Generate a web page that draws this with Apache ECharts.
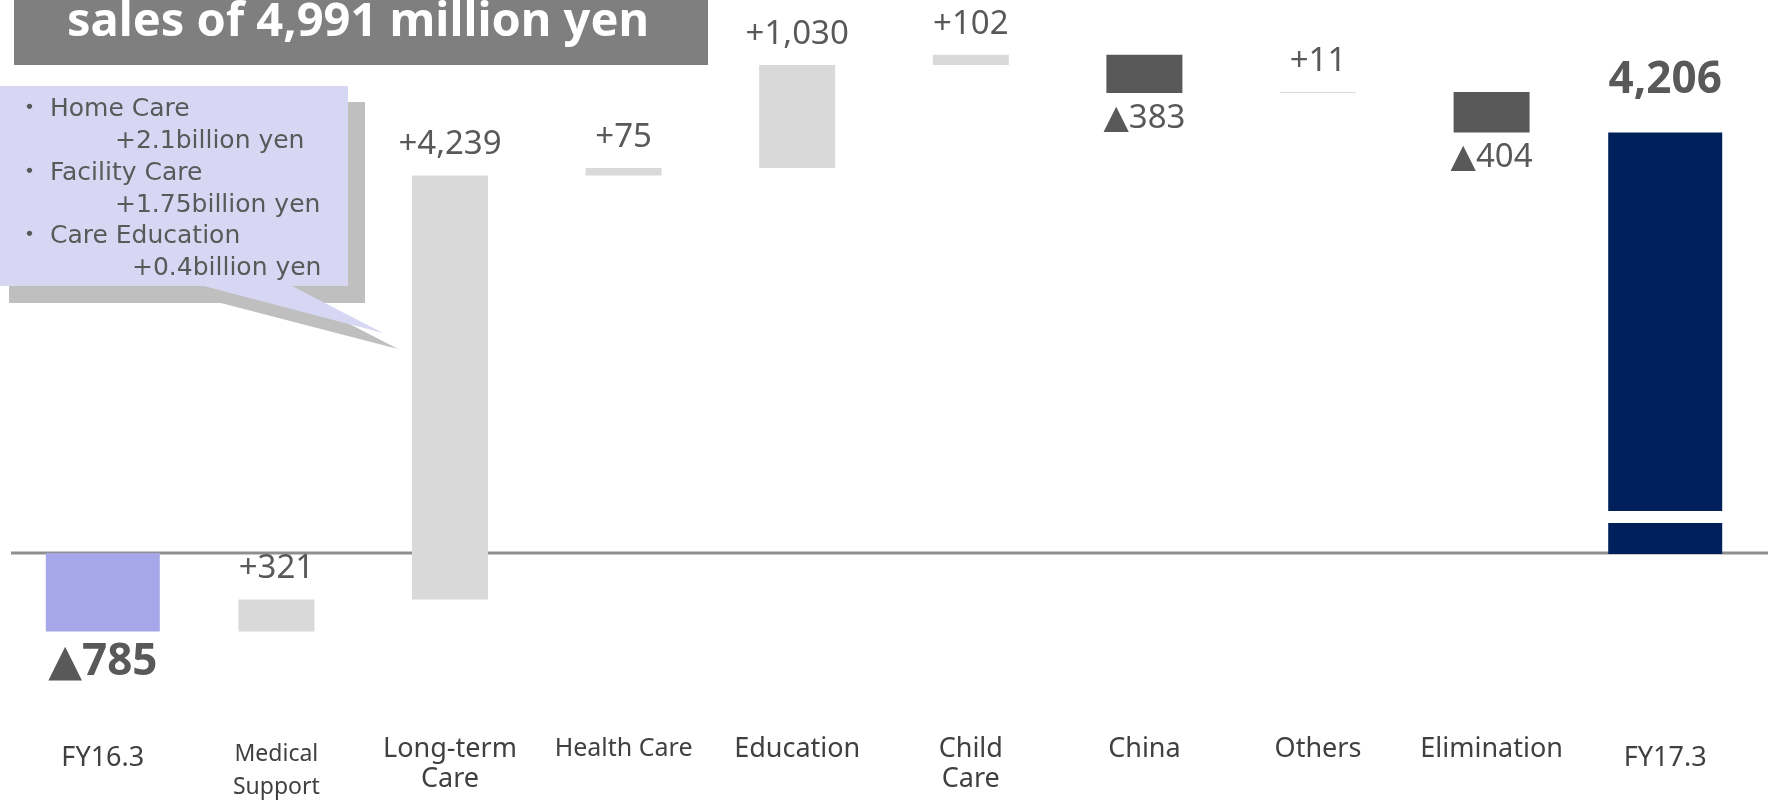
<!DOCTYPE html>
<html>
<head>
<meta charset="utf-8">
<script src="https://cdn.jsdelivr.net/npm/echarts@6/dist/echarts.min.js"></script>
<style>
  html, body { margin: 0; padding: 0; background: #ffffff; }
  #chart { width: 1768px; height: 801px; }
</style>
</head>
<body>
<div id="chart"></div>
<script>
// ---- data (million yen) ----
const categories = ['FY16.3', 'Medical\nSupport', 'Long-term\nCare', 'Health Care', 'Education',
                    'Child\nCare', 'China', 'Others', 'Elimination', 'FY17.3'];
const openingTotal = -785;
const segmentChanges = [321, 4239, 75, 1030, 102, -383, 11, -404];
const closingTotal = 4206;

const headline = 'sales of 4,991 million yen';
const calloutLines = [
  '\u30FB Home Care', '+2.1billion yen',
  '\u30FB Facility Care', '+1.75billion yen',
  '\u30FB Care Education', '+0.4billion yen'
];

// ---- styling ----
const SANS = "'Noto Sans', 'DejaVu Sans', sans-serif";
const WIDE = "'DejaVu Sans', 'Noto Sans CJK JP', sans-serif";
const TEXT_GREY = '#595959';
const LABEL_DARK = '#404040';
const COLORS = { opening: '#a5a7e8', closing: '#00205b', up: '#d9d9d9', down: '#595959' };

// waterfall rows: [category index, from, to, change, kind]  kind 0 = opening, 1 = step, 2 = closing
const rows = [[0, 0, openingTotal, openingTotal, 0]];
let level = openingTotal;
segmentChanges.forEach((d, k) => {
  rows.push([k + 1, level, level + d, d, 1]);
  level += d;
});
rows.push([categories.length - 1, 0, closingTotal, closingTotal, 2]);

function valueText(v, kind) {
  const abs = Math.abs(v).toLocaleString('en-US');
  if (v < 0) return '\u25B2' + abs;
  return kind === 1 ? '+' + abs : abs;
}

// axis label style per category
const labelStyleKey = ['total', 'small', 'main', 'hc', 'main', 'main', 'main', 'main', 'main', 'total'];

function renderBar(params, api) {
  const idx = api.value(0), from = api.value(1), to = api.value(2), v = api.value(3), kind = api.value(4);
  const cx = api.coord([idx, 0])[0];
  const yFrom = api.coord([idx, from])[1];
  const yTo = api.coord([idx, to])[1];
  const w = kind === 1 ? 76 : 114;
  const top = Math.min(yFrom, yTo);
  const h = Math.abs(yTo - yFrom);
  let fill;
  if (kind === 0) fill = COLORS.opening;
  else if (kind === 2) fill = COLORS.closing;
  else fill = v < 0 ? COLORS.down : COLORS.up;

  const isTotal = kind !== 1;
  const textContent = {
    style: {
      text: valueText(v, kind),
      fill: TEXT_GREY,
      font: (isTotal ? 'bold 44px ' : '33px ') + SANS
    }
  };
  let distance = v < 0 ? 9 : 14;
  if (kind === 2) distance = 30;
  const textConfig = { position: v < 0 ? 'bottom' : 'top', distance: distance };

  if (kind === 2) {
    // closing total: bar interrupted just above the baseline
    return {
      type: 'group',
      children: [
        { type: 'rect', shape: { x: cx - w / 2, y: top, width: w, height: h - 42 },
          style: { fill: fill }, textContent: textContent, textConfig: textConfig },
        { type: 'rect', shape: { x: cx - w / 2, y: yFrom - 30, width: w, height: 31 },
          style: { fill: fill } }
      ]
    };
  }
  return {
    type: 'rect',
    shape: { x: cx - w / 2, y: top, width: w, height: h },
    style: { fill: fill },
    textContent: textContent,
    textConfig: textConfig
  };
}

const chart = echarts.init(document.getElementById('chart'), null, { renderer: 'canvas' });

chart.setOption({
  backgroundColor: '#ffffff',
  animation: false,
  grid: { left: 16, right: 16, top: 53, bottom: 148, containLabel: false },
  xAxis: {
    type: 'category',
    data: categories,
    axisLine: { show: false },
    axisTick: { show: false },
    splitLine: { show: false },
    axisLabel: {
      interval: 0,
      margin: 81,
      formatter: function (value, index) {
        const key = labelStyleKey[index];
        const parts = value.split('\n');
        if (key === 'small') {
          return '{smallTop|' + parts[0] + '}\n{small|' + parts[1] + '}';
        }
        return parts.map(p => '{' + key + '|' + p + '}').join('\n');
      },
      rich: {
        main:     { fontFamily: SANS, fontSize: 27, lineHeight: 30, color: LABEL_DARK, align: 'center' },
        total:    { fontFamily: SANS, fontSize: 27, lineHeight: 48, color: LABEL_DARK, align: 'center' },
        hc:       { fontFamily: SANS, fontSize: 25, lineHeight: 30, color: LABEL_DARK, align: 'center' },
        smallTop: { fontFamily: SANS, fontSize: 23, lineHeight: 40, color: LABEL_DARK, align: 'center' },
        small:    { fontFamily: SANS, fontSize: 23, lineHeight: 26, color: LABEL_DARK, align: 'center' }
      }
    }
  },
  yAxis: {
    type: 'value',
    min: -1000,
    max: 5000,
    interval: 1000,
    show: false,
    splitLine: { show: false }
  },
  series: [{
    type: 'custom',
    renderItem: renderBar,
    encode: { x: 0, y: [1, 2] },
    data: rows,
    z: 3
  }]
});

// baseline, headline banner and the long-term care callout
const zeroY = chart.convertToPixel({ yAxisIndex: 0 }, 0);
const calloutPos = [
  [17, 109], [115, 141],
  [17, 173], [115, 205],
  [17, 236], [132, 268]
];
const calloutTexts = calloutLines.map((t, k) => ({
  type: 'text',
  x: calloutPos[k][0],
  y: calloutPos[k][1],
  style: {
    text: t,
    font: '25px ' + WIDE,
    fill: TEXT_GREY,
    textAlign: 'left',
    textVerticalAlign: 'middle'
  },
  z: 12
}));

chart.setOption({
  graphic: [
    { type: 'line', z: 0,
      shape: { x1: 11, y1: zeroY, x2: 1768, y2: zeroY },
      style: { stroke: '#8f8f8f', lineWidth: 3 } },
    { type: 'rect', z: 10,
      shape: { x: 14, y: 0, width: 694, height: 65 },
      style: { fill: '#7f7f7f' } },
    { type: 'text', z: 11, x: 358, y: 23,
      style: { text: headline, font: 'bold 47px ' + SANS, fill: '#ffffff',
               textAlign: 'center', textVerticalAlign: 'middle' } },
    // callout shadow
    { type: 'rect', z: 10,
      shape: { x: 9, y: 102, width: 356, height: 201 },
      style: { fill: '#bfbfbf' } },
    { type: 'polygon', z: 10,
      shape: { points: [[217, 302], [307, 302], [398, 349]] },
      style: { fill: '#bfbfbf' } },
    // callout body
    { type: 'rect', z: 11,
      shape: { x: 0, y: 86, width: 348, height: 200 },
      style: { fill: '#d7d7f3' } },
    { type: 'polygon', z: 11,
      shape: { points: [[200, 285], [290, 285], [383, 333]] },
      style: { fill: '#d7d7f3' } }
  ].concat(calloutTexts)
});
</script>
</body>
</html>
